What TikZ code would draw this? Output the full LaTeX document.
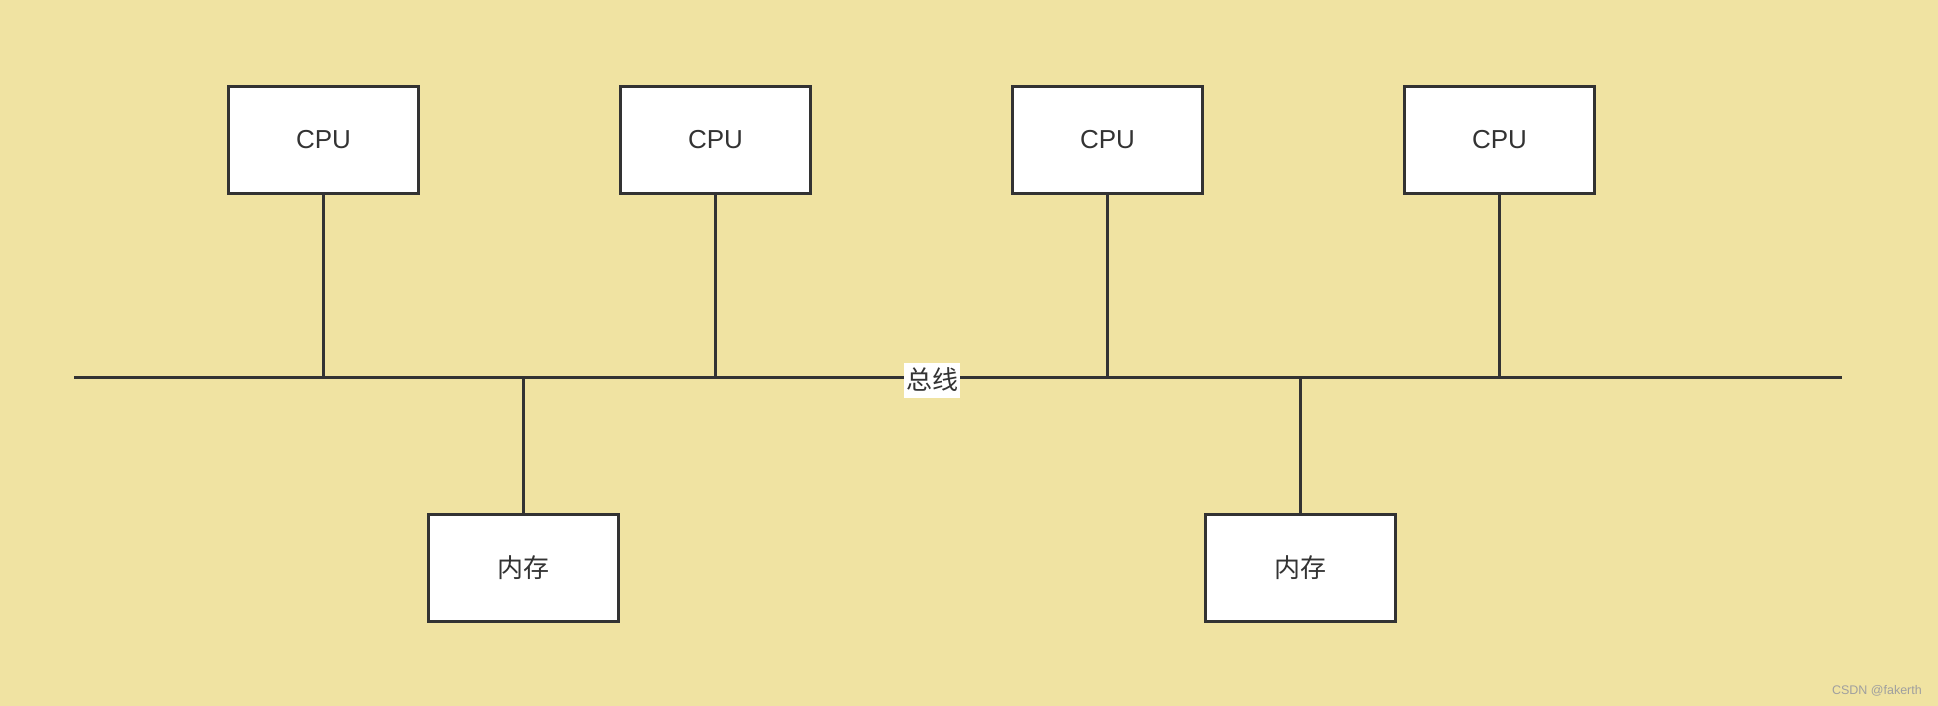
\documentclass[tikz,border=0pt]{standalone}
\usepackage{fontspec}
\setmainfont{Liberation Sans}
\newfontfamily\cjk{Noto Sans CJK SC}
\definecolor{bg}{RGB}{240,227,162}
\definecolor{ink}{RGB}{51,51,51}
\begin{document}
\begin{tikzpicture}[x=1pt,y=-1pt,
  unitbox/.style={draw=ink,line width=3pt,fill=white,minimum width=190pt,minimum height=107pt,inner sep=0pt,font=\fontsize{26}{30}\selectfont,text=ink},
  wire/.style={draw=ink,line width=3pt}]
\fill[bg] (0,0) rectangle (1938,706);
\useasboundingbox (0,0) rectangle (1938,706);
\node[unitbox] (c1) at (323.5,140) {CPU};
\node[unitbox] (c2) at (715.5,140) {CPU};
\node[unitbox] (c3) at (1107.5,140) {CPU};
\node[unitbox] (c4) at (1499.5,140) {CPU};
\node[unitbox] (m1) at (523.5,567.5) {\cjk 内存};
\node[unitbox] (m2) at (1300.5,567.5) {\cjk 内存};
\coordinate (bl) at (74,377.5);
\coordinate (br) at (1842,377.5);
\draw[wire] (bl) -- (br);
\foreach \n in {c1,c2,c3,c4}{
  \coordinate (\n b) at (\n.south |- bl);
  \draw[wire] (\n.south) -- (\n b);
}
\foreach \n in {m1,m2}{
  \coordinate (\n b) at (\n.north |- bl);
  \draw[wire] (\n.north) -- (\n b);
}
\node[fill=white,inner sep=0pt,minimum width=56pt,minimum height=35pt,font=\cjk\fontsize{26}{30}\selectfont,text=ink] (bus) at (932,380) {总线};
\node[anchor=east,inner sep=0pt,font=\fontsize{12.5}{15}\selectfont,text=gray!75!white] (wm) at (1922,691) {CSDN @fakerth};
\end{tikzpicture}
\end{document}
